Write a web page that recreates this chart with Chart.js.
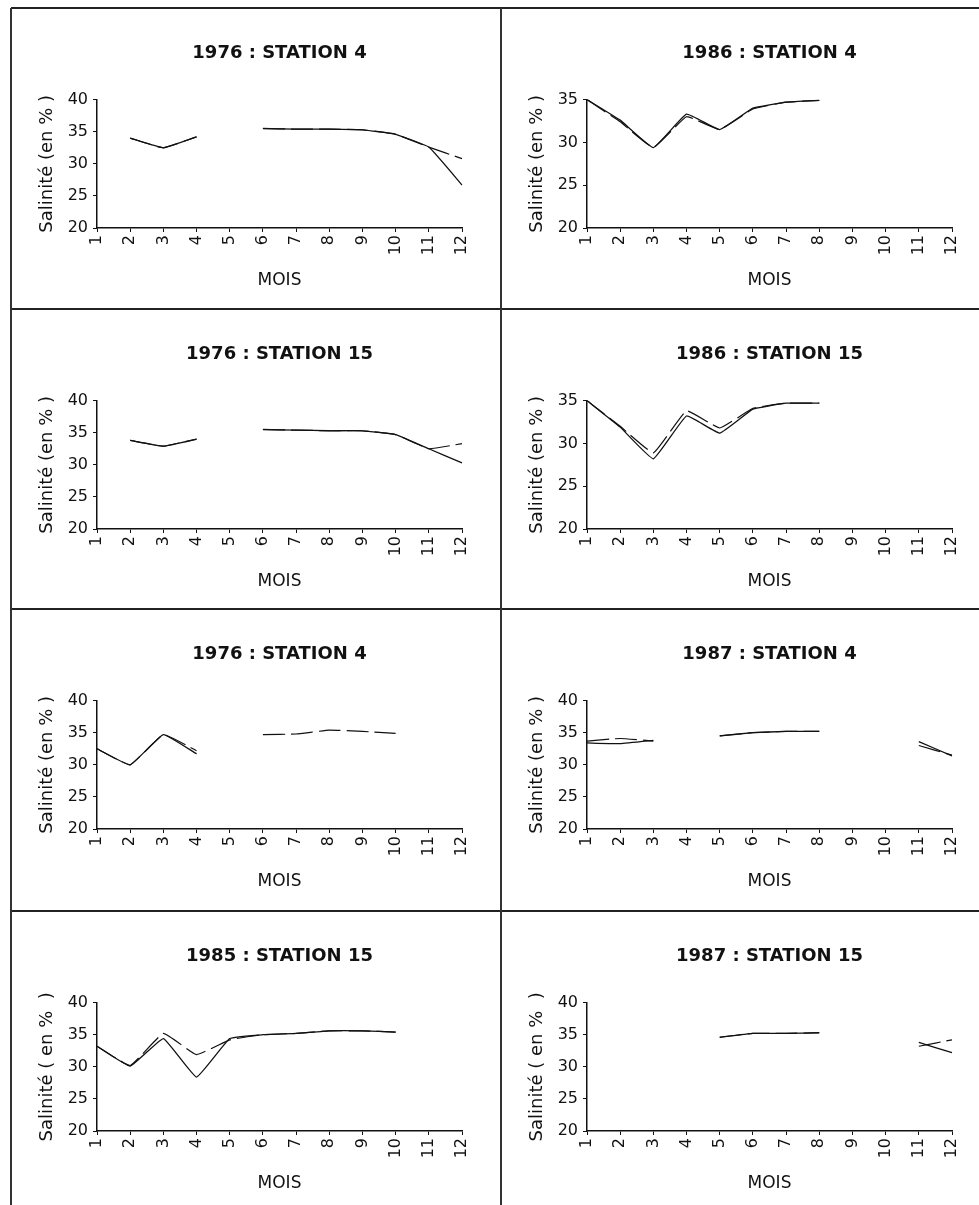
<!DOCTYPE html>
<html>
<head>
<meta charset="utf-8">
<script src="https://cdn.jsdelivr.net/npm/chart.js@4.4.1/dist/chart.umd.min.js"></script>
<style>
  body { margin: 0; background: #fff; width: 979px; height: 1205px; position: relative; overflow: hidden; }
  .panel { position: absolute; width: 490px; height: 301px; }
  .hline { position: absolute; left: 11px; width: 968px; height: 2px; background: #222; }
  .vline { position: absolute; top: 8px; width: 1.5px; height: 1197px; background: #333; }
</style>
</head>
<body>
<div class="hline" style="top:7px"></div>
<div class="hline" style="top:308px"></div>
<div class="hline" style="top:608px"></div>
<div class="hline" style="top:910px"></div>
<div class="vline" style="left:10px"></div>
<div class="vline" style="left:500px"></div>

<div class="panel" style="left:11px;top:8px"><canvas id="c1" width="490" height="301"></canvas></div>
<div class="panel" style="left:501px;top:8px"><canvas id="c2" width="490" height="301"></canvas></div>
<div class="panel" style="left:11px;top:309px"><canvas id="c3" width="490" height="301"></canvas></div>
<div class="panel" style="left:501px;top:309px"><canvas id="c4" width="490" height="301"></canvas></div>
<div class="panel" style="left:11px;top:609px"><canvas id="c5" width="490" height="301"></canvas></div>
<div class="panel" style="left:501px;top:609px"><canvas id="c6" width="490" height="301"></canvas></div>
<div class="panel" style="left:11px;top:911px"><canvas id="c7" width="490" height="301"></canvas></div>
<div class="panel" style="left:501px;top:911px"><canvas id="c8" width="490" height="301"></canvas></div>

<script>
// months on the x axis
var months = ['1', '2', '3', '4', '5', '6', '7', '8', '9', '10', '11', '12'];

// 1976 : STATION 4 (top)
var s1976st4a = [null, 34.0, 32.5, 34.2, null, 35.5, 35.4, 35.4, 35.3, 34.6, 32.6, 26.7];
var s1976st4b = [null, 34.0, 32.5, 34.2, null, 35.5, 35.4, 35.4, 35.3, 34.6, 32.6, 30.8];
// 1986 : STATION 4
var s1986st4a = [35.0, 32.6, 29.4, 33.3, 31.5, 34.0, 34.7, 34.9, null, null, null, null];
var s1986st4b = [35.0, 32.4, 29.4, 33.0, 31.5, 33.9, 34.7, 34.9, null, null, null, null];
// 1976 : STATION 15
var s1976st15a = [null, 33.8, 32.9, 34.0, null, 35.5, 35.4, 35.3, 35.3, 34.7, 32.5, 30.3];
var s1976st15b = [null, 33.8, 32.9, 34.0, null, 35.5, 35.4, 35.3, 35.3, 34.7, 32.5, 33.3];
// 1986 : STATION 15
var s1986st15a = [35.0, 31.9, 28.2, 33.2, 31.2, 34.0, 34.7, 34.7, null, null, null, null];
var s1986st15b = [35.0, 32.0, 28.9, 33.8, 31.8, 34.1, 34.7, 34.7, null, null, null, null];
// 1976 : STATION 4 (third row)
var s1976bst4a = [32.5, 30.0, 34.7, 31.7, null, null, null, null, null, null, null, null];
var s1976bst4b = [32.5, 30.0, 34.7, 32.2, null, 34.7, 34.8, 35.4, 35.2, 34.9, null, null];
// 1987 : STATION 4
var s1987st4a = [33.4, 33.3, 33.8, null, 34.5, 35.0, 35.2, 35.2, null, null, 33.6, 31.4];
var s1987st4b = [33.7, 34.1, 33.7, null, 34.5, 35.0, 35.2, 35.2, null, null, 33.0, 31.5];
// 1985 : STATION 15
var s1985st15a = [33.2, 30.1, 34.4, 28.4, 34.4, 35.0, 35.2, 35.6, 35.6, 35.4, null, null];
var s1985st15b = [33.2, 30.2, 35.2, 31.9, 34.2, 35.0, 35.2, 35.6, 35.6, 35.4, null, null];
// 1987 : STATION 15
var s1987st15a = [null, null, null, null, 34.6, 35.2, 35.2, 35.3, null, null, 33.8, 32.2];
var s1987st15b = [null, null, null, null, 34.6, 35.2, 35.2, 35.3, null, null, 33.2, 34.2];

var yTitleA = 'Salinité (en % )';
var yTitleB = 'Salinité ( en %  )';

var panels = [
  ['c1', '1976 : STATION 4', s1976st4a, s1976st4b, 40, yTitleA],
  ['c2', '1986 : STATION 4', s1986st4a, s1986st4b, 35, yTitleA],
  ['c3', '1976 : STATION 15', s1976st15a, s1976st15b, 40, yTitleA],
  ['c4', '1986 : STATION 15', s1986st15a, s1986st15b, 35, yTitleA],
  ['c5', '1976 : STATION 4', s1976bst4a, s1976bst4b, 40, yTitleA],
  ['c6', '1987 : STATION 4', s1987st4a, s1987st4b, 40, yTitleA],
  ['c7', '1985 : STATION 15', s1985st15a, s1985st15b, 40, yTitleB],
  ['c8', '1987 : STATION 15', s1987st15a, s1987st15b, 40, yTitleB]
];

var ink = '#111';
var fam = '"DejaVu Sans", sans-serif';

panels.forEach(function (p) {
  new Chart(document.getElementById(p[0]), {
    type: 'line',
    data: {
      labels: months,
      datasets: [{
        data: p[2],
        borderColor: ink,
        borderWidth: 1.3,
        pointRadius: 0,
        spanGaps: false,
        tension: 0.1
      }, {
        data: p[3],
        borderColor: ink,
        borderWidth: 1.2,
        borderDash: [22, 6],
        pointRadius: 0,
        spanGaps: false,
        tension: 0.1
      }]
    },
    options: {
      responsive: false,
      animation: false,
      devicePixelRatio: 1,
      layout: { padding: { left: 0, right: 39, top: 0, bottom: 0 } },
      plugins: {
        legend: { display: false },
        tooltip: { enabled: false },
        title: {
          display: true,
          text: p[1],
          fullSize: false,
          color: ink,
          font: { family: fam, size: 18, weight: 'bold' },
          padding: { top: 35, bottom: 35 }
        }
      },
      scales: {
        x: {
          afterFit: function (s) { s.height = 81; },
          border: { display: true, color: ink, width: 1.5 },
          grid: { drawOnChartArea: false, color: ink, tickLength: 4 },
          ticks: {
            color: ink, autoSkip: false, maxRotation: 90, minRotation: 90, padding: 3,
            font: { family: fam, size: 16 }
          },
          title: {
            display: true, text: 'MOIS', color: ink,
            font: { family: fam, size: 17 },
            padding: { top: 0, bottom: 18 }
          }
        },
        y: {
          min: 20,
          max: p[4],
          afterFit: function (s) { s.width = 86; },
          border: { display: true, color: ink, width: 1.5 },
          grid: { drawOnChartArea: false, color: ink, tickLength: 4 },
          ticks: {
            color: ink, stepSize: 5, padding: 5,
            font: { family: fam, size: 16 }
          },
          title: {
            display: true, text: p[5], color: ink,
            font: { family: fam, size: 18 },
            padding: { top: 26, bottom: 0 }
          }
        }
      }
    }
  });
});
</script>
</body>
</html>
